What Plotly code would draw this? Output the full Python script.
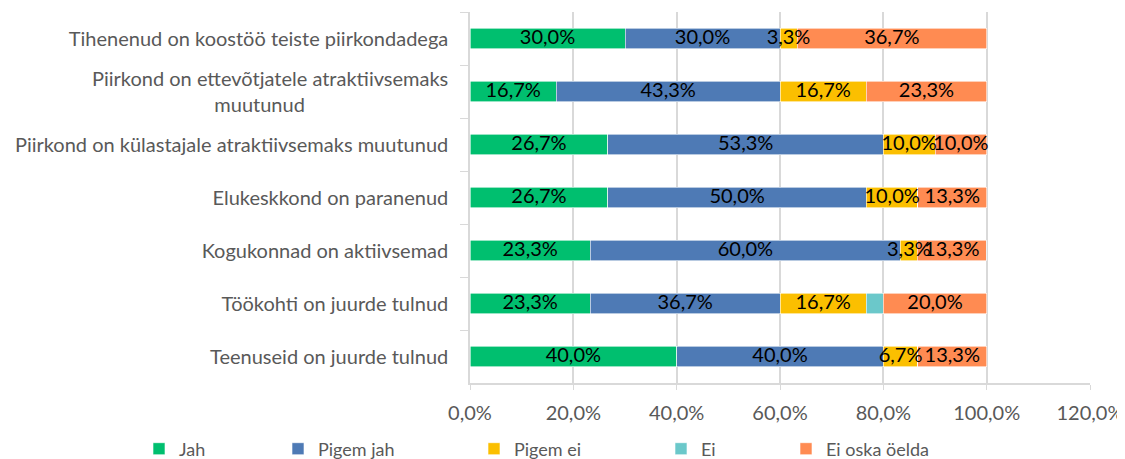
import plotly.graph_objects as go

# categories, top to bottom as in the reference
categories = [
    "Tihenenud on koostöö teiste piirkondadega",
    "Piirkond on ettevõtjatele atraktiivsemaks<br>muutunud" + "\u00a0" * 28,
    "Piirkond on külastajale atraktiivsemaks muutunud",
    "Elukeskkond on paranenud",
    "Kogukonnad on aktiivsemad",
    "Töökohti on juurde tulnud",
    "Teenuseid on juurde tulnud",
]

series_names = ["Jah", "Pigem jah", "Pigem ei", "Ei", "Ei oska öelda"]
jah = [30.0, 16.7, 26.7, 26.7, 23.3, 23.3, 40.0]
pigem_jah = [30.0, 43.3, 53.3, 50.0, 60.0, 36.7, 40.0]
pigem_ei = [3.3, 16.7, 10.0, 10.0, 3.3, 16.7, 6.7]
ei = [0.0, 0.0, 0.0, 0.0, 0.0, 3.3, 0.0]
ei_oska = [36.7, 23.3, 10.0, 13.3, 13.3, 20.0, 13.3]

values = [jah, pigem_jah, pigem_ei, ei, ei_oska]
colors = ["#00BF6F", "#4E7AB5", "#FBBF00", "#6BC8CA", "#FF8B52"]
show_labels = [True, True, True, False, True]
# legend marker centres (px) in the reference
legend_px = [160, 299, 495, 682, 807]

FONT = "Lato, 'Open Sans', sans-serif"
GREY = "#595959"
# the page body adds an 8px margin, so the figure is drawn 8px smaller
OFF = 8
W, H = 1125 - OFF, 459 - OFF

fig = go.Figure()
layout_legends = {}
for i, (name, vals, color) in enumerate(zip(series_names, values, colors)):
    key = f"legend{i + 2}"
    fig.add_trace(
        go.Bar(
            y=categories,
            x=vals,
            name=name,
            orientation="h",
            legend=key,
            marker=dict(color=color, line=dict(color="white", width=0.6)),
            width=0.38,
            hoverinfo="x+name",
        )
    )
    layout_legends[key] = dict(
        orientation="h",
        xref="container",
        yref="container",
        x=(legend_px[i] - OFF - 21) / W,
        xanchor="left",
        y=1 - (449 - OFF) / H,
        yanchor="middle",
        bgcolor="rgba(0,0,0,0)",
        font=dict(family=FONT, size=18, color=GREY),
    )

# data labels on top of all segments, centred in each segment
cum = [0.0] * len(categories)
for vals, labelled in zip(values, show_labels):
    mids = [c + v / 2 for c, v in zip(cum, vals)]
    cum = [c + v for c, v in zip(cum, vals)]
    if not labelled:
        continue
    fig.add_trace(
        go.Scatter(
            y=categories,
            x=mids,
            mode="text",
            text=[f"{v:.1f}%".replace(".", ",") for v in vals],
            textposition="middle center",
            textfont=dict(family=FONT, size=20, color="black"),
            showlegend=False,
            hoverinfo="skip",
            cliponaxis=False,
        )
    )

fig.update_layout(
    barmode="stack",
    separators=", ",
    width=W,
    height=H,
    margin=dict(l=470 - OFF, r=35, t=12 - OFF, b=76),
    paper_bgcolor="white",
    plot_bgcolor="white",
    font=dict(family=FONT, color=GREY),
    xaxis=dict(
        range=[0, 120],
        dtick=20,
        tickformat=".1f",
        ticksuffix="%",
        showgrid=True,
        gridcolor="#d9d9d9",
        gridwidth=1.5,
        zeroline=False,
        showline=True,
        linecolor="#d9d9d9",
        linewidth=1.5,
        ticks="outside",
        ticklen=5,
        tickcolor="#d9d9d9",
        tickfont=dict(size=20, color=GREY),
        ticklabelstandoff=6,
        automargin=False,
    ),
    yaxis=dict(
        autorange="reversed",
        showline=True,
        linecolor="#d9d9d9",
        linewidth=1.5,
        ticks="outside",
        tickson="boundaries",
        ticklen=8,
        tickcolor="#d9d9d9",
        tickfont=dict(size=20, color=GREY),
        ticklabelstandoff=16,
        automargin=False,
    ),
    **layout_legends,
)

fig.write_html("out.html")
